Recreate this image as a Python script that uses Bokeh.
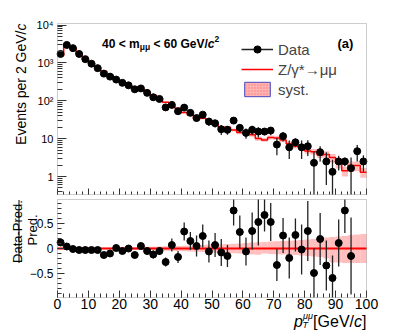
import math
from bokeh.plotting import figure
from bokeh.layouts import column
from bokeh.models import (Label, Legend, LegendItem, FixedTicker,
                          ColumnDataSource, Range1d, BoxAnnotation)
from bokeh.embed import file_html
from bokeh.resources import INLINE

# ---------------- data ----------------
bin_centers = list(range(1, 100, 2))          # pT bin centres, 2 GeV/c bins
data = [1727, 2985, 2458, 1727, 1260, 957, 729, 522, 435, 363,
        298, 256, 201, 212, 162, 124, 112, 67, 78, 53,
        66, 48, 35, 43, 28.3, 25.5, 17.7, 17.1, 30, 19.3,
        14.2, 17.1, 15.4, 15.4, 16.4, 7.0, 11.6, 5.9, 8.0, 5.9,
        6.3, 2.3, 4.4, 2.5, 1.33, 2.5, 2.5, 1.66, 4.65, 2.5]
pred = [1542, 2870, 2483, 1780, 1299, 987, 752, 600, 483, 359,
        314, 256, 231, 202, 171, 141, 118, 92, 73, 64,
        49, 42, 33, 34.4, 30.1, 23.8, 19.2, 20.1, 17.0, 14.5,
        15.1, 12.7, 10.1, 9.2, 10.7, 10.4, 9.2, 7.3, 6.3, 6.0,
        4.7, 4.5, 3.7, 3.8, 3.2, 2.25, 1.42, 1.95, 1.95, 1.3]
ratio = [0.12, 0.04, -0.01, -0.03, -0.03, -0.03, -0.03, -0.13, -0.10, 0.01,
         -0.05, 0.0, -0.13, 0.05, -0.05, -0.12, -0.05, -0.27, 0.07, -0.17,
         0.34, 0.15, 0.05, 0.25, -0.06, 0.07, -0.08, -0.15, 0.76, 0.33,
         -0.06, 0.35, 0.53, 0.67, 0.53, -0.33, 0.26, -0.19, 0.27, -0.02,
         0.35, -0.49, 0.19, -0.34, -0.59, 0.11, 0.76, -0.15, None, None]
rel_err = [0.027, 0.019, 0.02, 0.023, 0.027, 0.031, 0.036, 0.038, 0.043, 0.053,
           0.055, 0.062, 0.061, 0.065, 0.07, 0.08, 0.075, 0.09, 0.13, 0.12,
           0.18, 0.18, 0.21, 0.23, 0.22, 0.24, 0.27, 0.22, 0.30, 0.33,
           0.28, 0.37, 0.47, 0.33, 0.38, 0.32, 0.35, 0.41, 0.33, 0.50,
           0.60, 0.50, 0.52, 0.50, 0.45, 0.47, 0.45, 0.77, 1.10, 0.90]
syst_up = [0.02] * 10 + [0.025, 0.025, 0.03, 0.03, 0.035, 0.035, 0.04,
           0.045, 0.05, 0.05, 0.055, 0.06, 0.065,
           0.07, 0.075, 0.08, 0.085, 0.09,
           0.095, 0.10, 0.11, 0.12, 0.125,
           0.13, 0.14, 0.145, 0.15, 0.155,
           0.16, 0.17, 0.18, 0.19, 0.21,
           0.22, 0.23, 0.24, 0.25, 0.27, 0.28, 0.29]
syst_dn = [0.02] * 10 + [0.025, 0.025, 0.03, 0.03, 0.035, 0.035, 0.04,
           0.045, 0.05, 0.05, 0.055, 0.06, 0.065,
           0.07, 0.075, 0.08, 0.085, 0.09,
           0.095, 0.10, 0.11, 0.12, 0.125,
           0.10, 0.11, 0.115, 0.12, 0.13,
           0.13, 0.14, 0.15, 0.16, 0.17,
           0.20, 0.28, 0.28, 0.29, 0.29, 0.29, 0.29]
bin_half = 1.0
y_ticks_top = [1, 10, 100, 1000, 10000]
y_tick_labels_top = ["1", "10", "10\u00b2", "10\u00b3", "10\u2074"]
x_lim = (0, 100)
y_lim_top = (0.335, 1.1e4)
y_lim_ratio = (-0.98, 0.98)
x_ticks = list(range(0, 101, 10))
x_minor = list(range(0, 101, 2))
r_ticks = [-0.5, 0, 0.5]
r_tick_labels = ["\u22120.5", "0", "0.5"]
r_minor = [round(-0.9 + 0.1 * i, 1) for i in range(19)]

# ---------------- geometry (page pixels) ----------------
W = 400
H1 = 197          # top canvas: page y 0..197
H2 = 134          # ratio canvas: page y 197..331
BX0, BX1 = 57, 366          # data box, x
B1T, B1B = 23, 194          # top data box, y
B2T, B2B = 199, 297         # ratio data box, y
FONT = "Liberation Sans"
RED = "#ff0000"
BAND = "#ff9c9c"
AX = "#333333"
FRAME = "#5a5a5a"

ppx = (BX1 - BX0) / (x_lim[1] - x_lim[0])
xr = (x_lim[0] - BX0 / ppx, x_lim[0] + (W - BX0) / ppx)
lt, lb = math.log10(y_lim_top[1]), math.log10(y_lim_top[0])
k1 = (lt - lb) / (B1B - B1T)
yr1 = (10 ** (lb - (H1 - B1B) * k1), 10 ** (lt + B1T * k1))
k2 = (y_lim_ratio[1] - y_lim_ratio[0]) / (B2B - B2T)
yr2 = (y_lim_ratio[0] - (H1 + H2 - B2B) * k2, y_lim_ratio[1] + (B2T - H1) * k2)

common = dict(width=W, output_backend="svg", toolbar_location=None, min_border=0,
              title=None, background_fill_color="white", border_fill_color="white",
              outline_line_color=None)
p1 = figure(height=H1, y_axis_type="log", x_range=Range1d(*xr), y_range=Range1d(*yr1), **common)
p2 = figure(height=H2, x_range=Range1d(*xr), y_range=Range1d(*yr2), **common)

for p in (p1, p2):
    p.xgrid.visible = False
    p.ygrid.visible = False
    for ax in (p.xaxis[0], p.yaxis[0]):
        ax.axis_line_color = None
        ax.major_tick_line_color = AX
        ax.minor_tick_line_color = AX
        ax.major_tick_out = 0
        ax.minor_tick_out = 0
        ax.major_label_text_font = FONT
        ax.major_label_text_color = "black"

# ---- top axes ----
minor_log = [m * 10.0 ** e for e in range(-1, 5) for m in range(2, 10)
             if y_lim_top[0] <= m * 10.0 ** e <= y_lim_top[1]]
ya = p1.yaxis[0]
ya.fixed_location = x_lim[0]
ya.ticker = FixedTicker(ticks=y_ticks_top, minor_ticks=minor_log)
ya.major_label_overrides = {t: s for t, s in zip(y_ticks_top, y_tick_labels_top)}
ya.major_tick_in = 9
ya.minor_tick_in = 5
ya.major_label_text_font_size = "11px"
ya.major_label_standoff = 4
xa = p1.xaxis[0]
xa.fixed_location = y_lim_top[0]
xa.ticker = FixedTicker(ticks=x_ticks, minor_ticks=x_minor)
xa.major_tick_in = 6
xa.minor_tick_in = 3
xa.major_label_text_color = None
xa.major_label_text_font_size = "1px"
xa.major_label_standoff = 0

# ---- ratio axes ----
xa2 = p2.xaxis[0]
xa2.fixed_location = y_lim_ratio[0]
xa2.ticker = FixedTicker(ticks=x_ticks, minor_ticks=x_minor)
xa2.major_tick_in = 7
xa2.minor_tick_in = 4
xa2.major_label_text_font_size = "14px"
xa2.major_label_standoff = 1
ya2 = p2.yaxis[0]
ya2.fixed_location = x_lim[0]
ya2.ticker = FixedTicker(ticks=r_ticks, minor_ticks=r_minor)
ya2.major_label_overrides = {t: s for t, s in zip(r_ticks, r_tick_labels)}
ya2.major_tick_in = 7
ya2.minor_tick_in = 4
ya2.major_label_text_font_size = "12px"
ya2.major_label_standoff = 4

# ---------------- top panel ----------------
lefts = [c - bin_half for c in bin_centers]
rights = [c + bin_half for c in bin_centers]
band_src = ColumnDataSource(dict(
    left=lefts, right=rights,
    bottom=[pv * (1 - d) for pv, d in zip(pred, syst_dn)],
    top=[pv * (1 + u) for pv, u in zip(pred, syst_up)]))
p1.quad(left="left", right="right", bottom="bottom", top="top", source=band_src,
        fill_color=BAND, fill_alpha=0.65, line_color=None)

edges = lefts + [rights[-1]]
r_step = p1.step(x=edges, y=pred + [pred[-1]], mode="after", line_color=RED, line_width=1.5)

err_abs = [e * pv for e, pv in zip(rel_err, pred)]
err_src = ColumnDataSource(dict(
    x=bin_centers,
    lo=[max(d - e, y_lim_top[0]) for d, e in zip(data, err_abs)],
    hi=[min(d + e, y_lim_top[1]) for d, e in zip(data, err_abs)]))
r_err = p1.segment(x0="x", y0="lo", x1="x", y1="hi", source=err_src,
                   line_color="#222222", line_width=1.3)
r_pts = p1.scatter(x=bin_centers, y=data, size=7, fill_color="black", line_color="black")

r_sys_leg = p1.quad(left="left", right="right", bottom="bottom", top="top", source=band_src,
                    fill_color="#ffb4b4", line_color="#4848c0", line_width=1,
                    hatch_pattern="dot", hatch_color="#ff7a7a", hatch_scale=3)
r_sys_leg.visible = False

p1.add_layout(BoxAnnotation(left=x_lim[0], right=x_lim[1], bottom=y_lim_top[0], top=y_lim_top[1],
                            fill_alpha=0, line_color=FRAME, line_width=1))

legend = Legend(items=[LegendItem(label="Data", renderers=[r_err, r_pts]),
                       LegendItem(label="Z/\u03b3*\u2192\u03bc\u03bc", renderers=[r_step]),
                       LegendItem(label="syst.", renderers=[r_sys_leg])],
                location=(241, H1 - 99),
                glyph_width=32, glyph_height=18, label_height=20, label_standoff=5,
                spacing=0, padding=0, margin=0,
                label_text_font=FONT, label_text_font_size="15px",
                border_line_alpha=0, background_fill_alpha=0,
                inactive_fill_alpha=0)
p1.add_layout(legend)

# ---------------- ratio panel ----------------
rband_src = ColumnDataSource(dict(left=lefts, right=rights,
                                  bottom=[-d for d in syst_dn], top=list(syst_up)))
p2.quad(left="left", right="right", bottom="bottom", top="top", source=rband_src,
        fill_color=BAND, fill_alpha=0.65, line_color=None)
p2.segment(x0=[x_lim[0]], y0=[0], x1=[x_lim[1]], y1=[0], line_color=RED, line_width=2)

rx, ry, rlo, rhi = [], [], [], []
for c, r, e in zip(bin_centers, ratio, rel_err):
    if r is None:
        continue
    rx.append(c); ry.append(r)
    rlo.append(max(r - e, y_lim_ratio[0])); rhi.append(min(r + e, y_lim_ratio[1]))
p2.segment(x0=rx, y0=rlo, x1=rx, y1=rhi, line_color="#222222", line_width=1.3)
p2.scatter(x=rx, y=ry, size=7, fill_color="black", line_color="black")
p2.add_layout(BoxAnnotation(left=x_lim[0], right=x_lim[1], bottom=y_lim_ratio[0], top=y_lim_ratio[1],
                            fill_alpha=0, line_color=FRAME, line_width=1))

# ---------------- texts ----------------
W_REG = {' ': 278, '[': 278, ']': 278, 'G': 778, 'e': 556, 'V': 667, '/': 278, 'c': 500,
         '\u03bc': 556, 'T': 611, 'p': 556, '2': 556, 'D': 722, 'a': 556, 't': 278,
         '-': 333, 'P': 667, 'r': 333, 'd': 556, '.': 278}
W_BOLD = {' ': 278, '4': 556, '0': 556, '6': 556, '<': 584, 'm': 889, 'G': 778, 'e': 556,
          'V': 667, '/': 278, 'c': 556, '\u03bc': 611, '2': 556}


def text_w(s, size, bold=False):
    tab = W_BOLD if bold else W_REG
    return sum(tab.get(ch, 556) for ch in s) * size / 1000.0


def lab(p, fig_bottom, px, py, text, size, style="normal", align="left",
        baseline="alphabetic", angle=0.0, bold=False):
    stripped = text.lstrip(" ")
    px += text_w(text[:len(text) - len(stripped)], size, bold)
    p.add_layout(Label(x=px, y=fig_bottom - py, x_units="screen", y_units="screen",
                       text=stripped, text_font=FONT, text_font_size=f"{size}px",
                       text_font_style=style, text_align=align, text_baseline=baseline,
                       angle=angle, text_color="black"))


BOT1 = H1
BOT2 = H1 + H2

# y title of top panel
lab(p1, BOT1, 20.7, 30, "Events per 2 GeV/", 14, align="right", angle=math.pi / 2)
lab(p1, BOT1, 20.7, 23, "c", 14, style="italic", align="right", angle=math.pi / 2)

# mass window text
x = 101.5
base = 43.5
pieces = [("40 < m", 12, "bold", 0), ("\u03bc\u03bc", 8.5, "bold", 3),
          (" < 60 GeV/", 12, "bold", 0), ("c", 12, "bold italic", 0), ("2", 8.5, "bold", -5.5)]
for t, s, st, dy in pieces:
    lab(p1, BOT1, x, base + dy, t, s, style=st, bold=True)
    x += text_w(t, s, bold=True)

lab(p1, BOT1, 337, 42.5, "(a)", 13, style="bold", bold=True)

# ratio y title (fraction), rotated, anchored at its upper end
num, den = "Data-Pred.", "Pred."
yc = 231
FS = 13
lab(p2, BOT2, 16.7, yc - text_w(num, FS) / 2, num, FS, align="right", angle=math.pi / 2)
lab(p2, BOT2, 31.5, yc - 1.5 - text_w(den, FS) / 2, den, FS, align="right", angle=math.pi / 2)
p2.add_layout(BoxAnnotation(left=18, right=19,
                            bottom=BOT2 - (yc + text_w(num, FS) / 2),
                            top=BOT2 - (yc - text_w(num, FS) / 2),
                            left_units="screen", right_units="screen",
                            bottom_units="screen", top_units="screen",
                            fill_color="black", fill_alpha=1, line_color=None))

# x title
lab(p2, BOT2, 302.5, 321, "p", 16, style="italic", align="right")
lab(p2, BOT2, 302.5, 315, "\u03bc\u03bc", 9, style="italic")
lab(p2, BOT2, 302.0, 324.5, "T", 9, style="italic")
x = 312.6
for t, st in (("[GeV/", "normal"), ("c", "italic"), ("]", "normal")):
    lab(p2, BOT2, x, 321, t, 16, style=st)
    x += text_w(t, 16)

layout = column(p1, p2)
open("out.html", "w").write(file_html(layout, INLINE))
